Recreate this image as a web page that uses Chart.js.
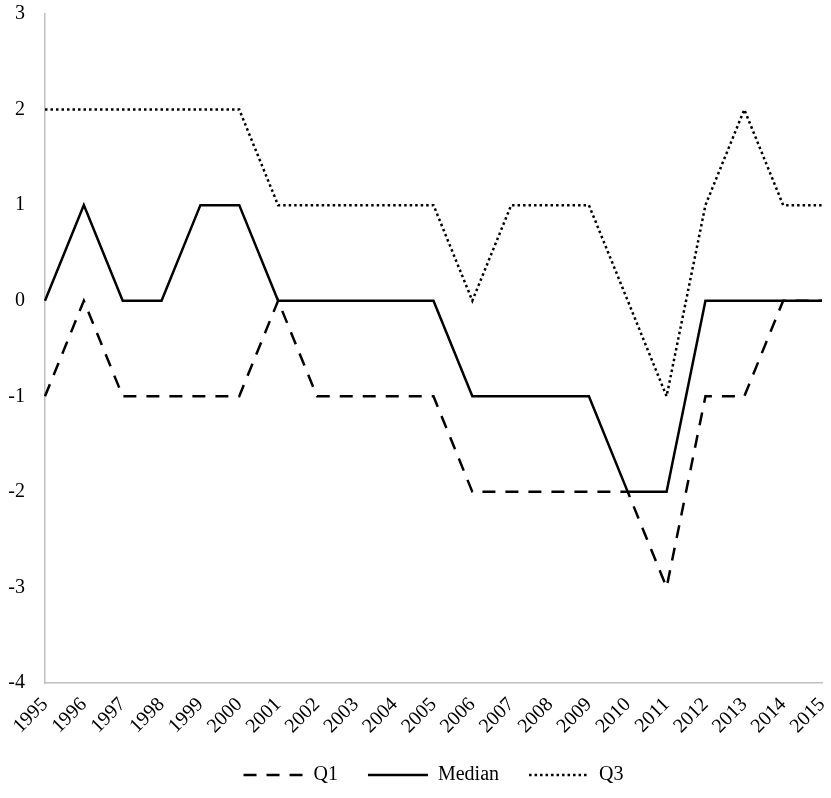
<!DOCTYPE html>
<html>
<head>
<meta charset="utf-8">
<script src="https://cdn.jsdelivr.net/npm/chart.js@4"></script>
<style>
	html, body { margin: 0; padding: 0; background: #fff; }
	#wrap { width: 831px; height: 798px; }
</style>
</head>
<body>
<div id="wrap"><canvas id="chart_quartiles"></canvas></div>
<script>
// data
const years = ['1995', '1996', '1997', '1998', '1999', '2000', '2001', '2002', '2003', '2004',
	'2005', '2006', '2007', '2008', '2009', '2010', '2011', '2012', '2013', '2014', '2015'];
const q1 = [-1, 0, -1, -1, -1, -1, 0, -1, -1, -1, -1, -2, -2, -2, -2, -2, -3, -1, -1, 0, 0];
const median = [0, 1, 0, 0, 1, 1, 0, 0, 0, 0, 0, -1, -1, -1, -1, -2, -2, 0, 0, 0, 0];
const q3 = [2, 2, 2, 2, 2, 2, 1, 1, 1, 1, 1, 0, 1, 1, 1, 0, -1, 1, 2, 1, 1];

const font_family = "'Liberation Serif', 'Times New Roman', serif";

const chart_html = document.getElementById('chart_quartiles');
const chart = new Chart(chart_html, {
	type: 'line',
	data: {
		labels: years,
		datasets: [{
			label: 'Q1',
			data: q1,
			borderColor: '#000',
			borderWidth: 2.5,
			borderDash: [13, 10],
			pointRadius: 0,
			tension: 0
		}, {
			label: 'Median',
			data: median,
			borderColor: '#000',
			borderWidth: 2.5,
			pointRadius: 0,
			tension: 0
		}, {
			label: 'Q3',
			data: q3,
			borderColor: '#000',
			borderWidth: 2.5,
			borderDash: [2.5, 3],
			pointRadius: 0,
			tension: 0
		}]
	},
	options: {
		responsive: true,
		maintainAspectRatio: false,
		animation: false,
		layout: {
			padding: { left: 0, right: 9, top: 14, bottom: 3 }
		},
		scales: {
			x: {
				offset: false,
				grid: { display: false, drawTicks: false },
				border: { display: true, color: '#bfbfbf', width: 1.5 },
				ticks: {
					color: '#000',
					font: { family: font_family, size: 20 },
					maxRotation: 45,
					minRotation: 45,
					autoSkip: false,
					padding: 10
				},
				afterFit: function(scale) {
					scale.height = 72;
					scale.paddingLeft = 0;
					scale.paddingRight = 0;
				}
			},
			y: {
				min: -4,
				max: 3,
				grid: { display: false, drawTicks: false },
				border: { display: true, color: '#bfbfbf', width: 1.5 },
				ticks: {
					stepSize: 1,
					color: '#000',
					font: { family: font_family, size: 20 },
					padding: 20
				},
				afterFit: function(scale) {
					scale.width = 45;
					scale.paddingTop = 0;
					scale.paddingBottom = 0;
				}
			}
		},
		plugins: {
			tooltip: { enabled: false },
			legend: {
				display: true,
				position: 'bottom',
				fullSize: false,
				labels: {
					color: '#000',
					font: { family: font_family, size: 20 },
					usePointStyle: true,
					pointStyle: 'line',
					pointStyleWidth: 60,
					boxWidth: 60,
					padding: 10,
					generateLabels: function(chart) {
						const items = Chart.defaults.plugins.legend.labels.generateLabels(chart);
						items.forEach(function(item, i) {
							const ds = chart.data.datasets[item.datasetIndex];
							item.lineDash = ds.borderDash || [];
							item.lineWidth = ds.borderWidth;
							item.strokeStyle = ds.borderColor;
							if (i < items.length - 1) {
								item.text = item.text + '\u2003';
							}
						});
						return items;
					}
				}
			}
		}
	}
});
</script>
</body>
</html>
